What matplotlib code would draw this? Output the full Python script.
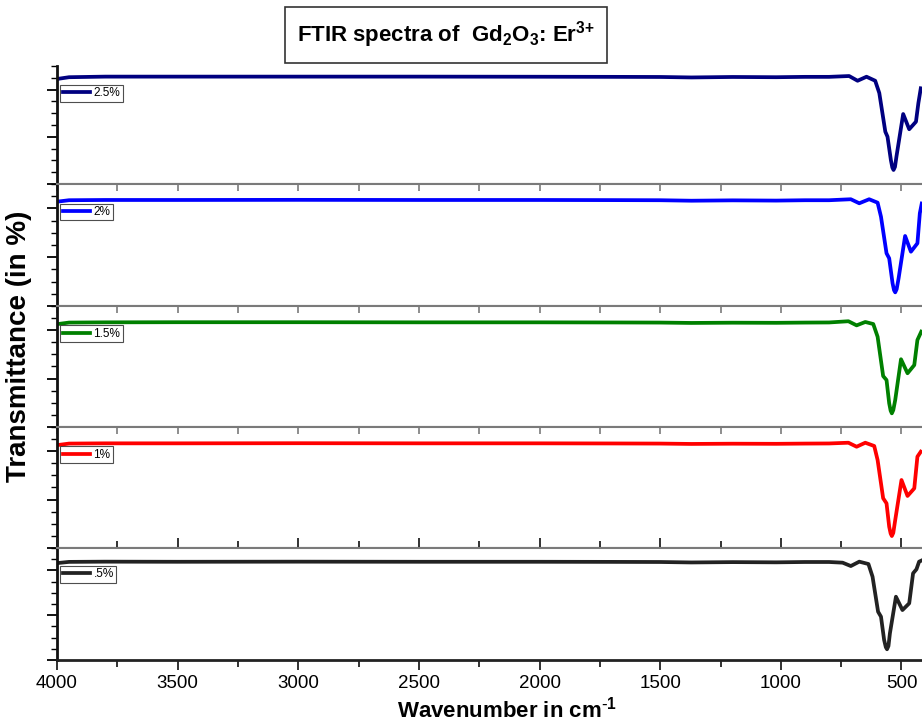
import matplotlib
matplotlib.use("Agg")
import matplotlib.pyplot as plt
from matplotlib.ticker import MultipleLocator

plt.rcParams["font.family"] = ["Liberation Sans", "DejaVu Sans"]
plt.rcParams["mathtext.default"] = "regular"

# ---------------------------------------
# datos (T en % relativo a cada panel)
# ---------------------------------------
wn_25 = [4000, 3950, 3800, 3500, 3000, 2500, 2000, 1700, 1500, 1371, 1200, 1019, 900,
         800, 717, 682, 645, 609, 592, 567, 558, 544, 538, 533, 527, 521, 493, 468, 440, 430, 420]
t_25 = [89.0, 90.5, 91.0, 91.0, 91.0, 91.0, 90.9, 90.8, 90.7, 90.3, 90.7, 90.5, 90.8,
        90.8, 91.5, 87.5, 90.9, 87.5, 77.1, 44.3, 40.1, 20.3, 14.0, 11.9, 14.5, 23.1, 59.3,
        46.4, 52.8, 68.6, 81.1]

wn_2 = [4000, 3950, 3800, 3500, 3000, 2500, 2000, 1700, 1500, 1371, 1200, 1019, 900,
        800, 710, 675, 634, 599, 585, 562, 551, 537, 531, 526, 520, 512, 485, 461, 434, 424, 416]
t_2 = [85.5, 86.7, 86.9, 86.9, 87.0, 86.9, 86.9, 86.8, 86.7, 86.3, 86.6, 86.4, 86.7,
       86.7, 87.5, 84.2, 87.5, 84.7, 73.2, 43.2, 39.1, 18.6, 13.0, 11.2, 13.8, 22.7, 57.4,
       44.5, 51.4, 76.0, 84.0]

wn_15 = [4000, 3950, 3800, 3500, 3000, 2500, 2000, 1700, 1500, 1371, 1200, 1019, 900,
         800, 720, 686, 650, 617, 599, 576, 562, 551, 545, 540, 534, 526, 502, 475, 447, 434, 418]
t_15 = [85.0, 86.3, 86.5, 86.6, 86.6, 86.5, 86.5, 86.4, 86.3, 86.0, 86.2, 86.1, 86.3,
        86.4, 87.4, 84.0, 86.8, 85.1, 74.6, 42.1, 38.8, 19.6, 13.5, 11.3, 14.0, 22.3, 56.0,
        44.4, 51.2, 71.9, 78.8]

wn_1 = [4000, 3950, 3800, 3500, 3000, 2500, 2000, 1700, 1500, 1371, 1200, 1019, 900,
        800, 720, 686, 650, 613, 599, 576, 562, 551, 545, 540, 534, 526, 500, 475, 447, 434, 420]
t_1 = [85.0, 86.3, 86.5, 86.5, 86.6, 86.5, 86.5, 86.4, 86.3, 86.0, 86.2, 86.1, 86.3,
       86.4, 87.0, 83.7, 87.0, 84.3, 72.7, 41.1, 36.9, 17.6, 12.0, 9.9, 12.5, 23.1, 56.2,
       43.0, 49.3, 75.5, 79.6]

wn_05 = [4000, 3950, 3800, 3500, 3000, 2500, 2000, 1700, 1500, 1371, 1200, 1019, 900,
         800, 744, 710, 675, 637, 620, 597, 585, 572, 565, 560, 554, 548, 523, 496, 468, 452,
         438, 427, 415]
t_05 = [86.5, 87.6, 87.8, 87.7, 87.8, 87.7, 87.7, 87.6, 87.5, 87.1, 87.4, 87.2, 87.5,
        87.5, 86.9, 83.9, 87.8, 85.7, 74.4, 43.1, 38.7, 17.9, 11.5, 9.6, 12.5, 23.8, 56.5,
        44.6, 50.6, 77.4, 81.0, 87.8, 89.0]

etiquetas = ["2.5%", "2%", "1.5%", "1%", ".5%"]
colores = ["#000080", "#0000ff", "#008000", "#ff0000", "#222222"]
series = [(wn_25, t_25), (wn_2, t_2), (wn_15, t_15), (wn_1, t_1), (wn_05, t_05)]

# ---------------------------------------
# figura
# ---------------------------------------
fig = plt.figure(figsize=(9.22, 7.23), dpi=100)
gs = fig.add_gridspec(5, 1, left=57 / 922, right=1.0, top=1 - 66 / 723, bottom=1 - 660 / 723,
                      hspace=0, height_ratios=[118, 122, 121, 121, 112])

gris = "#7a7a7a"
axes = []
for i, ((wn, t), lab, col) in enumerate(zip(series, etiquetas, colores)):
    ax = fig.add_subplot(gs[i], sharex=axes[0] if axes else None)
    axes.append(ax)
    ax.plot(wn, t, color=col, lw=2.7, label=lab, solid_joinstyle="round")
    ax.set_ylim(0, 100)
    ax.set_xlim(4000, 415)

    # ejes y: sin etiquetas, ticks hacia afuera
    ax.yaxis.set_major_locator(MultipleLocator(40))
    ax.yaxis.set_minor_locator(MultipleLocator(10))
    ax.tick_params(axis="y", which="major", direction="out", length=7, width=1.3,
                   labelleft=False, left=True, right=False)
    ax.tick_params(axis="y", which="minor", direction="out", length=4, width=1.0)

    ax.spines["right"].set_visible(False)
    ax.spines["left"].set_linewidth(2.0)
    ax.spines["left"].set_color("#111111")
    ax.spines["top"].set_color(gris)
    ax.spines["top"].set_linewidth(1.5)
    ax.spines["bottom"].set_color(gris)
    ax.spines["bottom"].set_linewidth(1.5)
    if i == 0:
        ax.spines["top"].set_visible(False)

    ax.xaxis.set_major_locator(MultipleLocator(500))
    ax.xaxis.set_minor_locator(MultipleLocator(250))
    if i < 4:
        ax.tick_params(axis="x", which="both", bottom=False, labelbottom=False,
                       top=(i > 0), direction="in", length=5, width=1.2, color=gris)
    else:
        ax.tick_params(axis="x", which="both", top=True, direction="in", length=5,
                       width=1.2, color=gris, labeltop=False)
        ax.tick_params(axis="x", which="both", bottom=True, labelbottom=True)
        ax.spines["bottom"].set_color("#222222")
        ax.spines["bottom"].set_linewidth(2.0)

    leg = ax.legend(loc="upper left", bbox_to_anchor=(0.004, 0.84), fontsize=8.5,
                    frameon=True, fancybox=False, borderpad=0.2, handlelength=2.3,
                    handletextpad=0.3, borderaxespad=0)
    leg.get_frame().set_edgecolor("#222222")
    leg.get_frame().set_linewidth(0.8)

# eje x inferior
axb = axes[-1]
axb.xaxis.set_tick_params(which="major", bottom=True, direction="out", length=7,
                          width=1.3, color="#222222", labelsize=13.5)
axb.xaxis.set_tick_params(which="minor", bottom=True, direction="out", length=5,
                          width=1.3, color="#222222")
axb.set_xlabel(r"Wavenumber in cm$^{\text{-}1}$", fontsize=16, fontweight="bold")
axb.xaxis.set_label_coords((507 - 57) / 865, -0.33)

fig.text(0.0205, 1 - 346 / 723, "Transmittance (in %)", rotation=90, fontsize=20,
         fontweight="bold", ha="center", va="center")

fig.text(446 / 922, 1 - 35 / 723, "FTIR spectra of  Gd$_2$O$_3$: Er$^{3{+}}$",
         fontsize=16, fontweight="bold", ha="center", va="center",
         bbox=dict(boxstyle="square,pad=0.55", facecolor="white", edgecolor="#333333",
                   linewidth=1.2))

fig.savefig("out.png", dpi=100)
